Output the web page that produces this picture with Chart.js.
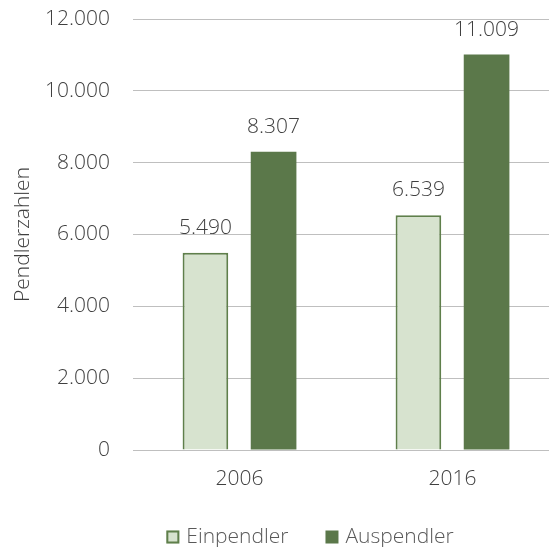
<!DOCTYPE html>
<html>
<head>
<meta charset="utf-8">
<script src="https://cdn.jsdelivr.net/npm/chart.js@4"></script>
<style>
  html, body { margin: 0; padding: 0; background: #fff; overflow: hidden; }
  #wrap { width: 559px; height: 547px; }
</style>
</head>
<body>
<div id="wrap"><canvas id="pendler"></canvas></div>
<script>
var years = ["2006", "2016"];
var einpendler = [5490, 6539];
var auspendler = [8307, 11009];
var yTicks = [0, 2000, 4000, 6000, 8000, 10000, 12000];

var fontFamily = "'Open Sans', sans-serif";
var fontSize = 21;
var textColor = "#404040";

function fmt(v){
    return v.toLocaleString("de-DE");
}

// draws the value above each bar
var valueLabels = {
    id: "valueLabels",
    afterDatasetsDraw: function(chart){
        var c = chart.ctx;
        c.save();
        c.font = "300 " + fontSize + "px " + fontFamily;
        c.fillStyle = textColor;
        c.textAlign = "center";
        c.textBaseline = "middle";
        chart.data.datasets.forEach(function(ds, i){
            chart.getDatasetMeta(i).data.forEach(function(bar, j){
                c.fillText(fmt(ds.data[j]), bar.x, bar.y - 25);
            });
        });
        c.restore();
    }
};

// legend under the axis, like the excel one
var bottomLegend = {
    id: "bottomLegend",
    afterDraw: function(chart){
        var c = chart.ctx;
        var box = 13, gap = 7, spacing = 37, centerX = 310, y = 537;
        c.save();
        c.font = "300 " + fontSize + "px " + fontFamily;
        c.textBaseline = "middle";
        var items = chart.data.datasets.map(function(ds){
            return { ds: ds, w: box + gap + c.measureText(ds.label).width };
        });
        var total = items.reduce(function(s, it){ return s + it.w; }, 0) + spacing * (items.length - 1);
        var x = centerX - total / 2;
        items.forEach(function(it){
            c.fillStyle = it.ds.backgroundColor;
            c.fillRect(x, y - box / 2, box, box);
            if (it.ds.borderWidth) {
                c.strokeStyle = it.ds.borderColor;
                c.lineWidth = 2;
                c.strokeRect(x + 1, y - box / 2 + 1, box - 2, box - 2);
            }
            c.fillStyle = "#595959";
            c.fillText(it.ds.label, x + box + gap, y);
            x += it.w + spacing;
        });
        c.restore();
    }
};

var ctx = document.getElementById("pendler").getContext("2d");
var chart = new Chart(ctx, {
    type: "bar",
    data: {
        labels: years,
        datasets: [
            {
                label: "Einpendler",
                data: einpendler,
                backgroundColor: "#d7e3cf",
                borderColor: "#5f7f4b",
                borderWidth: 2,
                borderSkipped: "bottom"
            },
            {
                label: "Auspendler",
                data: auspendler,
                backgroundColor: "#5b784a",
                borderColor: "#5b784a",
                borderWidth: 0
            }
        ]
    },
    options: {
        responsive: true,
        maintainAspectRatio: false,
        animation: false,
        layout: { padding: { top: 19, left: 0, right: 0, bottom: 0 } },
        datasets: {
            bar: { categoryPercentage: 0.64, barPercentage: 0.67 }
        },
        scales: {
            x: {
                afterFit: function(s){ s.height = 97; },
                grid: { display: false, drawTicks: false },
                border: { color: "#bfbfbf", width: 1 },
                ticks: { color: textColor, padding: 16, font: { family: fontFamily, size: fontSize, weight: 300 } }
            },
            y: {
                min: 0,
                max: 12000,
                afterFit: function(s){ s.width = 133; },
                afterBuildTicks: function(s){ s.ticks = yTicks.map(function(v){ return { value: v }; }); },
                grid: { color: "#bfbfbf", tickLength: 19, tickColor: "rgba(0,0,0,0)" },
                border: { display: false },
                title: {
                    display: true,
                    text: "Pendlerzahlen",
                    color: textColor,
                    padding: { top: 10, bottom: 0 },
                    font: { family: fontFamily, size: fontSize, weight: 300 }
                },
                ticks: {
                    color: textColor,
                    padding: 4,
                    font: { family: fontFamily, size: fontSize, weight: 300 },
                    callback: function(v){ return fmt(v); }
                }
            }
        },
        plugins: {
            legend: { display: false },
            tooltip: { enabled: false }
        }
    },
    plugins: [valueLabels, bottomLegend]
});
</script>
</body>
</html>
